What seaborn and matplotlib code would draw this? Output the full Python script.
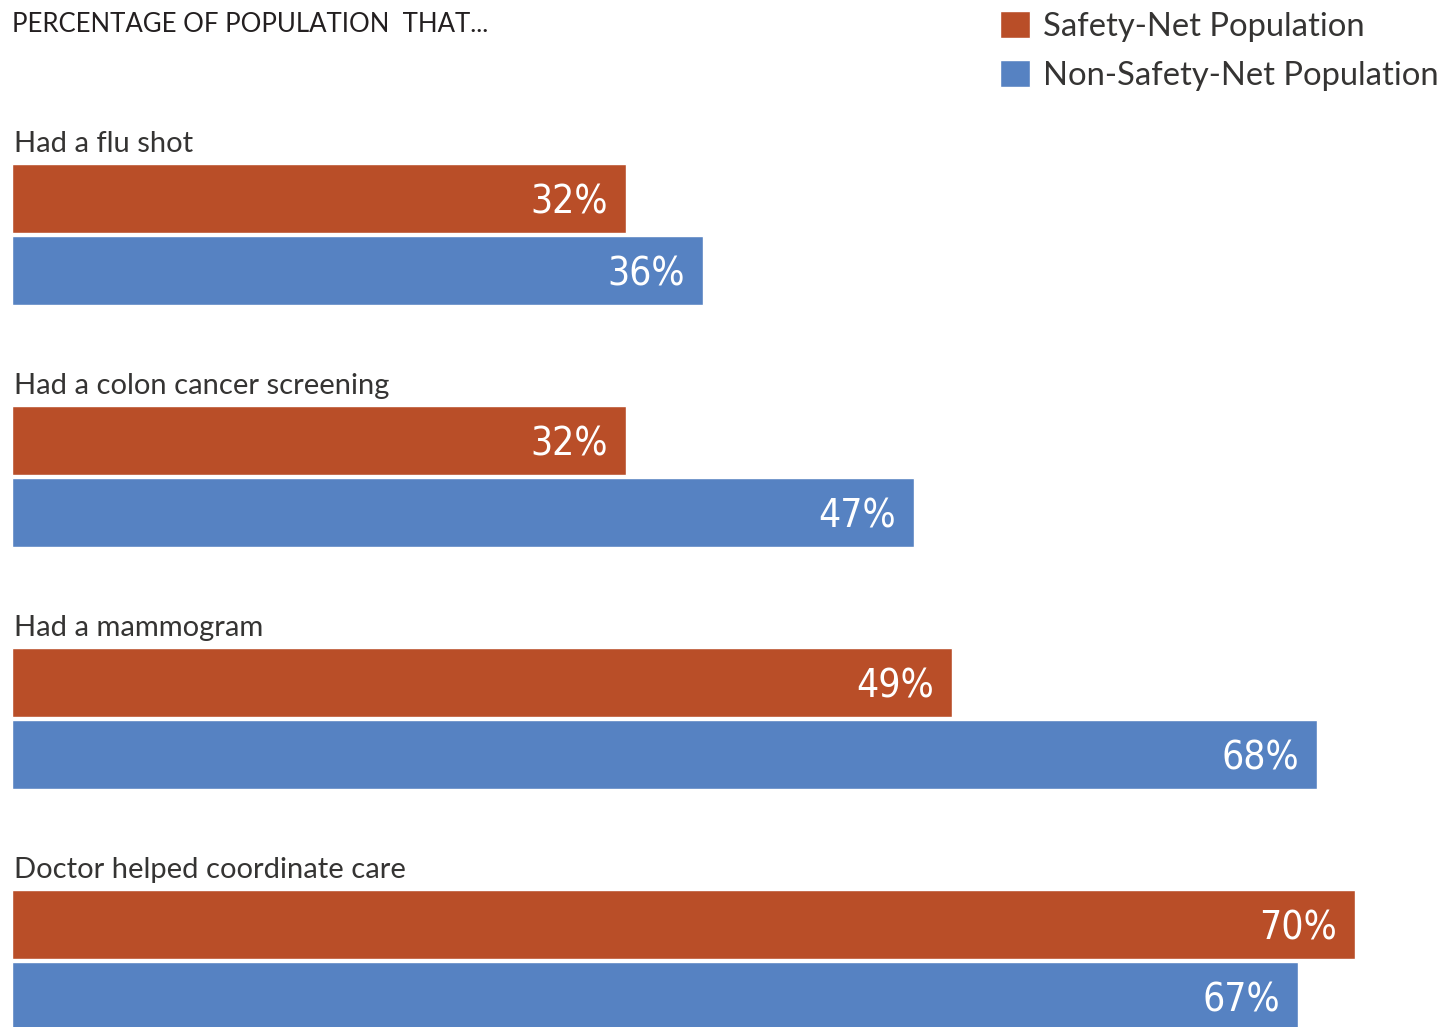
import matplotlib
matplotlib.use("Agg")
import matplotlib.pyplot as plt
from matplotlib import font_manager
from matplotlib.font_manager import FontProperties
import seaborn as sns
import pandas as pd

# --- data -------------------------------------------------------------
categories = [
    "Had a flu shot",
    "Had a colon cancer screening",
    "Had a mammogram",
    "Doctor helped coordinate care",
]
groups = ["Safety-Net Population", "Non-Safety-Net Population"]
safety_net = [32, 32, 49, 70]
non_safety_net = [36, 47, 68, 67]
title_text = "PERCENTAGE OF POPULATION  THAT..."

RED = "#B94E28"
BLUE = "#5682C2"
TEXT = "#353433"


def pick_font(candidates):
    for name in candidates:
        try:
            font_manager.findfont(FontProperties(family=name),
                                  fallback_to_default=False)
            return name
        except Exception:
            continue
    return "DejaVu Sans"


def narrow_value_font(size):
    """A condensed face for the bar values, if one is installed."""
    for fam in ["Noto Sans", "Open Sans", "DejaVu Sans"]:
        for stretch in ["condensed", "semi-condensed"]:
            try:
                path = font_manager.findfont(
                    FontProperties(family=fam, stretch=stretch),
                    fallback_to_default=False)
            except Exception:
                continue
            if "ondensed" in path or "Narrow" in path:
                return FontProperties(fname=path, size=size)
    for fam in ["Liberation Sans Narrow", "Roboto Condensed"]:
        try:
            path = font_manager.findfont(FontProperties(family=fam),
                                         fallback_to_default=False)
            return FontProperties(fname=path, size=size)
        except Exception:
            continue
    return FontProperties(family=pick_font(["Lato", "Roboto"]), size=size - 1)


label_font = pick_font(["Lato", "Open Sans", "Noto Sans"])
value_fp = narrow_value_font(28)

df = pd.DataFrame({
    "category": categories * 2,
    "group": [groups[0]] * len(categories) + [groups[1]] * len(categories),
    "value": safety_net + non_safety_net,
})

sns.set_theme(style="white")
plt.rcParams["font.family"] = [label_font, "DejaVu Sans"]

W, H, DPI = 1447, 1027, 100
fig = plt.figure(figsize=(W / DPI, H / DPI), dpi=DPI)
ax = fig.add_axes([12 / W, 0, 1 - 12 / W, 1])

sns.barplot(data=df, y="category", x="value", hue="group", orient="h",
            palette=[RED, BLUE], saturation=1, width=0.595, gap=0.0417,
            ax=ax)

ax.set_xlim(0, (W - 12) / 19.19)
ax.set_ylim(3.275, -0.969)
ax.set_axis_off()

# value labels inside the bar ends
for container, vals in zip(ax.containers, [safety_net, non_safety_net]):
    for bar, v in zip(container, vals):
        yc = bar.get_y() + bar.get_height() / 2
        ax.annotate(f"{v}%", xy=(v, yc), xytext=(-18, 0),
                    textcoords="offset pixels", ha="right", va="center_baseline",
                    color="white", fontproperties=value_fp)

# category captions above each pair of bars
for i, cat in enumerate(categories):
    ax.text(0.1, i - 0.341, cat, ha="left", va="baseline", fontsize=21,
            color=TEXT)

# title
fig.text(12 / W, 1 - 32 / H, title_text, ha="left", va="baseline",
         fontsize=18.5, color="#231F20")

# legend in the top-right corner
handles, labels = ax.get_legend_handles_labels()
ax.legend(handles, labels, loc="upper left",
          bbox_to_anchor=(1000 / W, 1 - 11 / H), bbox_transform=fig.transFigure,
          frameon=False, borderpad=0, borderaxespad=0,
          handlelength=0.9, handleheight=0.9, handletextpad=0.42,
          labelspacing=0.55, prop={"size": 23.6},
          labelcolor=TEXT)

fig.savefig("out.png", dpi=DPI, facecolor="white")
